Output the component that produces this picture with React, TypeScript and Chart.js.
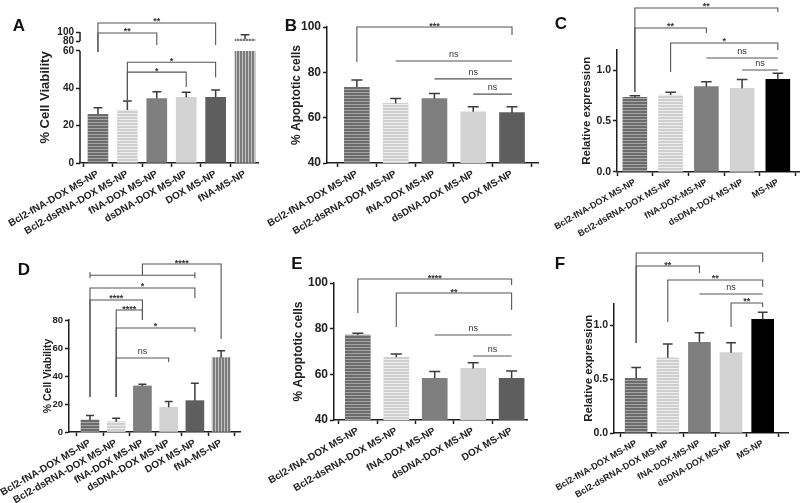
import React, { useEffect, useRef } from "react";
import { Chart, registerables, LinearScale } from "chart.js";

Chart.register(...registerables);

// ---------------- DATA ----------------
const LABELS_6 = [
  "Bcl2-fNA-DOX MS-NP",
  "Bcl2-dsRNA-DOX MS-NP",
  "fNA-DOX MS-NP",
  "dsDNA-DOX MS-NP",
  "DOX MS-NP",
  "fNA-MS-NP",
];
const LABELS_5 = [
  "Bcl2-fNA-DOX MS-NP",
  "Bcl2-dsRNA-DOX MS-NP",
  "fNA-DOX MS-NP",
  "dsDNA-DOX MS-NP",
  "DOX MS-NP",
];
const LABELS_EXPR = [
  "Bcl2-fNA-DOX MS-NP",
  "Bcl2-dsRNA-DOX MS-NP",
  "fNA-DOX-MS-NP",
  "dsDNA-DOX MS-NP",
  "MS-NP",
];

const MEANS_A = [26.1, 28.4, 34.5, 35.2, 35.2, 84.4];
const SEM_A = [3.5, 4.8, 3.7, 2.7, 3.9, 9.6];
const MEANS_B = [73.4, 66.3, 68.4, 62.6, 62.2];
const SEM_B = [3.2, 2.2, 2.3, 2.2, 2.6];
const MEANS_C = [0.732, 0.755, 0.837, 0.82, 0.908];
const SEM_C = [0.016, 0.026, 0.049, 0.088, 0.059];
const MEANS_D = [8.6, 7.4, 32.9, 17.6, 22.4, 53.1];
const SEM_D = [3.1, 2.4, 1.2, 4.1, 12.4, 5.0];
const MEANS_E = [77.2, 67.5, 58.3, 62.6, 58.3];
const SEM_E = [0.8, 1.4, 2.9, 2.5, 3.2];
const MEANS_F = [0.506, 0.697, 0.84, 0.744, 1.052];
const SEM_F = [0.1, 0.127, 0.089, 0.092, 0.065];

const TICKS_VIAB_A = [0, 20, 40, 60, 80, 100];
const TICKS_VIAB_D = [0, 20, 40, 60, 80];
const TICKS_APOP = [40, 60, 80, 100];
const TICKS_EXPR = [0, 0.5, 1.0];

type Bracket = { from: number; to: number; y: number; yFrom?: number; yTo?: number; text?: string; cap?: boolean };

const BRACKETS_A: Bracket[] = [
  { from: 0, to: 4, y: 120, yFrom: 59.5, yTo: 72, text: "**" },
  { from: 0, to: 2, y: 97.8, yFrom: 59.5, yTo: 72, text: "**" },
  { from: 1, to: 4, y: 54, yFrom: 33.7, yTo: 46, text: "*" },
  { from: 1, to: 3, y: 48.7, yFrom: 33.7, yTo: 40.7, text: "*" },
];
const BRACKETS_B: Bracket[] = [
  { from: 0, to: 4, y: 100, yFrom: 84.6, yTo: 96.5, text: "***" },
  { from: 1, to: 4, y: 85, text: "ns" },
  { from: 2, to: 4, y: 77.1, text: "ns" },
  { from: 3, to: 4, y: 70.4, text: "ns" },
];
const BRACKETS_C: Bracket[] = [
  { from: 0, to: 4, y: 1.608, yFrom: 0.784, yTo: 1.569, text: "**" },
  { from: 0, to: 2, y: 1.412, yFrom: 0.784, yTo: 1.363, text: "**" },
  { from: 1, to: 4, y: 1.265, yFrom: 0.98, yTo: 1.196, text: "*" },
  { from: 2, to: 4, y: 1.118, text: "ns" },
  { from: 3, to: 4, y: 1.0, text: "ns" },
];
const BRACKETS_D: Bracket[] = [
  { from: 0, to: 4, y: 112, cap: true },
  { from: 2, to: 5, y: 120, yFrom: 112, yTo: 66.4, text: "****" },
  { from: 0, to: 4, y: 102.9, yFrom: 25, yTo: 95.7, text: "*" },
  { from: 0, to: 2, y: 94.3, yFrom: 25, yTo: 80, text: "****" },
  { from: 1, to: 2, y: 87.1, yFrom: 25, yTo: 80, text: "****" },
  { from: 1, to: 4, y: 74.3, yFrom: 25, yTo: 71.4, text: "*" },
  { from: 1, to: 3, y: 52.9, yFrom: 25, yTo: 50, text: "ns" },
];
const BRACKETS_E: Bracket[] = [
  { from: 0, to: 4, y: 101.75, yFrom: 86.9, yTo: 99.1, text: "****" },
  { from: 1, to: 4, y: 95.6, yFrom: 80.7, yTo: 88.2, text: "**" },
  { from: 2, to: 4, y: 77.2, text: "ns" },
  { from: 3, to: 4, y: 68, text: "ns" },
];
const BRACKETS_F: Bracket[] = [
  { from: 0, to: 4, y: 1.667, yFrom: 0.833, yTo: 1.583, text: "" },
  { from: 0, to: 2, y: 1.546, yFrom: 0.833, yTo: 1.481, text: "**" },
  { from: 1, to: 4, y: 1.417, yFrom: 1.028, yTo: 1.352, text: "**" },
  { from: 2, to: 4, y: 1.287, text: "ns" },
  { from: 3, to: 4, y: 1.204, yFrom: 0.981, yTo: 1.167, text: "**" },
];

// ---------------- STYLES ----------------
const STYLE_6 = ["hDark", "hLight", "#7f7f7f", "#d3d3d3", "#5e5e5e", "vMid"];
const STYLE_5 = ["hDark", "hLight", "#7f7f7f", "#d3d3d3", "#5e5e5e"];
const STYLE_EXPR = ["hDark", "hLight", "#7f7f7f", "#d3d3d3", "#000000"];

const FONT = "'Liberation Sans', Arial, Helvetica, sans-serif";
const AXIS = "#1e1e1e";

// ---------------- BROKEN SCALE ----------------
class BrokenLinearScale extends LinearScale {
  static id = "brokenLinear";
  static defaults = {};
  _brk(): number[] {
    const o: any = this.options || {};
    const b = o.breakAt || [60, 80];
    const f = o.breakFrac || [0.855, 0.931];
    return [b[0], b[1], f[0], f[1]];
  }
  getPixelForValue(value: any) {
    if (value === null || value === undefined || isNaN(value)) return NaN;
    const [lo, hi, f1, f2] = this._brk();
    const min = this.min;
    const max = this.max;
    let d: number;
    if (value <= lo) d = ((value - min) / (lo - min)) * f1;
    else if (value <= hi) d = f1 + ((value - lo) / (hi - lo)) * (f2 - f1);
    else d = f2 + ((value - hi) / (max - hi)) * (1 - f2);
    return this.getPixelForDecimal(d);
  }
  getValueForPixel(pixel: number) {
    const [lo, hi, f1, f2] = this._brk();
    const d = this.getDecimalForPixel(pixel);
    const min = this.min;
    const max = this.max;
    if (d <= f1) return min + (d / f1) * (lo - min);
    if (d <= f2) return lo + ((d - f1) / (f2 - f1)) * (hi - lo);
    return hi + ((d - f2) / (1 - f2)) * (max - hi);
  }
}
Chart.register(BrokenLinearScale as any);

// ---------------- PANELS ----------------
type PanelSpec = {
  letter: string;
  letterX: number;
  letterY: number;
  labels: string[];
  means: number[];
  sems: number[];
  styles: string[];
  yMin: number;
  yMax: number;
  yTicks: number[];
  decimals: number;
  yTitle: string;
  area: { left: number; right: number; top: number; bottom: number };
  xMin: number;
  xMax: number;
  barWidth: number;
  titleX: number;
  titleSize: number;
  tickSize: number;
  labelSize: number;
  brackets: Bracket[];
  broken?: number[];
  brokenFrac?: number[];
};

const PANELS: PanelSpec[] = [
  {
    letter: "A", letterX: 19, letterY: 26,
    labels: LABELS_6, means: MEANS_A, sems: SEM_A, styles: STYLE_6,
    yMin: 0, yMax: 100, yTicks: TICKS_VIAB_A, decimals: 0, yTitle: "% Cell Viability",
    area: { left: 80, right: 258, top: 32, bottom: 163 },
    xMin: -0.61, xMax: 5.44, barWidth: 20,
    titleX: 45, titleSize: 13, tickSize: 10, labelSize: 10,
    brackets: BRACKETS_A, broken: [60, 80], brokenFrac: [0.855, 0.931],
  },
  {
    letter: "B", letterX: 291, letterY: 26,
    labels: LABELS_5, means: MEANS_B, sems: SEM_B, styles: STYLE_5,
    yMin: 40, yMax: 100, yTicks: TICKS_APOP, decimals: 0, yTitle: "% Apoptotic cells",
    area: { left: 327, right: 538, top: 27, bottom: 163 },
    xMin: -0.77, xMax: 4.67, barWidth: 25,
    titleX: 297, titleSize: 12, tickSize: 12, labelSize: 10,
    brackets: BRACKETS_B,
  },
  {
    letter: "C", letterX: 561, letterY: 24,
    labels: LABELS_EXPR, means: MEANS_C, sems: SEM_C, styles: STYLE_EXPR,
    yMin: 0, yMax: 1.2, yTicks: TICKS_EXPR, decimals: 1, yTitle: "Relative expression",
    area: { left: 617, right: 800, top: 49.6, bottom: 172 },
    xMin: -0.5, xMax: 4.62, barWidth: 24,
    titleX: 587, titleSize: 11.5, tickSize: 10.5, labelSize: 9,
    brackets: BRACKETS_C,
  },
  {
    letter: "D", letterX: 24, letterY: 270,
    labels: LABELS_6, means: MEANS_D, sems: SEM_D, styles: STYLE_6,
    yMin: 0, yMax: 80, yTicks: TICKS_VIAB_D, decimals: 0, yTitle: "% Cell Viability",
    area: { left: 69, right: 240, top: 320, bottom: 432 },
    xMin: -0.8, xMax: 5.72, barWidth: 18,
    titleX: 48, titleSize: 10.5, tickSize: 9.5, labelSize: 10,
    brackets: BRACKETS_D,
  },
  {
    letter: "E", letterX: 297, letterY: 264,
    labels: LABELS_5, means: MEANS_E, sems: SEM_E, styles: STYLE_5,
    yMin: 40, yMax: 100, yTicks: TICKS_APOP, decimals: 0, yTitle: "% Apoptotic cells",
    area: { left: 334, right: 527, top: 283, bottom: 420 },
    xMin: -0.62, xMax: 4.4, barWidth: 25,
    titleX: 299, titleSize: 12, tickSize: 12, labelSize: 10,
    brackets: BRACKETS_E,
  },
  {
    letter: "F", letterX: 560, letterY: 264,
    labels: LABELS_EXPR, means: MEANS_F, sems: SEM_F, styles: STYLE_EXPR,
    yMin: 0, yMax: 1.2, yTicks: TICKS_EXPR, decimals: 1, yTitle: "Relative expression",
    area: { left: 614, right: 788, top: 303.4, bottom: 433 },
    xMin: -0.7, xMax: 4.8, barWidth: 22,
    titleX: 589, titleSize: 11.4, tickSize: 10.5, labelSize: 9,
    brackets: BRACKETS_F,
  },
];

function makeStripe(dir: "h" | "v", c1: string, c2: string, period: number, thick: number) {
  const c = document.createElement("canvas");
  c.width = dir === "v" ? period : 1;
  c.height = dir === "h" ? period : 1;
  const g = c.getContext("2d")!;
  g.fillStyle = c2;
  g.fillRect(0, 0, c.width, c.height);
  g.fillStyle = c1;
  if (dir === "h") g.fillRect(0, 0, 1, thick);
  else g.fillRect(0, 0, thick, 1);
  return g.createPattern(c, "repeat")!;
}

function resolveFill(key: string): any {
  if (key === "hDark") return makeStripe("h", "#6c6c6c", "#a4a4a4", 3, 2);
  if (key === "hLight") return makeStripe("h", "#cfcfcf", "#ededed", 3, 2);
  if (key === "vMid") return makeStripe("v", "#7c7c7c", "#c4c4c4", 3, 2);
  return key;
}

function overlayPlugin(spec: PanelSpec) {
  return {
    id: "overlay" + spec.letter,
    afterDatasetsDraw(chart: any) {
      const ctx: CanvasRenderingContext2D = chart.ctx;
      const xs = chart.scales.x;
      const ys = chart.scales.y;
      const a = chart.chartArea;
      ctx.save();
      if (spec.broken) {
        const yLo = ys.getPixelForValue(spec.broken[0]);
        const yHi = ys.getPixelForValue(spec.broken[1]);
        ctx.fillStyle = "#ffffff";
        ctx.fillRect(a.left + 1, yHi, a.right - a.left, yLo - yHi);
        ctx.strokeStyle = AXIS;
        ctx.lineWidth = 1.5;
        ctx.beginPath();
        ctx.moveTo(a.left, ys.getPixelForValue(spec.yMin));
        ctx.lineTo(a.left, yLo);
        ctx.moveTo(a.left, yHi);
        ctx.lineTo(a.left, ys.getPixelForValue(spec.yMax));
        ctx.stroke();
      }
      // error bars
      ctx.strokeStyle = "#3c3c3c";
      ctx.lineWidth = 1.5;
      const cap = spec.barWidth * 0.22;
      spec.means.forEach((m, i) => {
        const x = xs.getPixelForValue(i);
        const y0 = ys.getPixelForValue(m);
        const y1 = ys.getPixelForValue(m + spec.sems[i]);
        ctx.beginPath();
        ctx.moveTo(x, y0);
        ctx.lineTo(x, y1);
        ctx.moveTo(x - cap, y1);
        ctx.lineTo(x + cap, y1);
        ctx.stroke();
      });
      ctx.restore();
    },
    afterDraw(chart: any) {
      const ctx: CanvasRenderingContext2D = chart.ctx;
      const xs = chart.scales.x;
      const ys = chart.scales.y;
      ctx.save();
      ctx.strokeStyle = "#555555";
      ctx.lineWidth = 1.1;
      ctx.fillStyle = "#333333";
      ctx.textAlign = "center";
      ctx.textBaseline = "alphabetic";
      spec.brackets.forEach((b) => {
        const x1 = xs.getPixelForValue(b.from);
        const x2 = xs.getPixelForValue(b.to);
        const y = ys.getPixelForValue(b.y);
        ctx.beginPath();
        if (b.yFrom !== undefined) {
          ctx.moveTo(x1, ys.getPixelForValue(b.yFrom));
          ctx.lineTo(x1, y);
        } else {
          ctx.moveTo(x1, y);
        }
        ctx.lineTo(x2, y);
        if (b.yTo !== undefined) ctx.lineTo(x2, ys.getPixelForValue(b.yTo));
        if (b.cap) {
          ctx.moveTo(x1, y - 3);
          ctx.lineTo(x1, y + 3);
          ctx.moveTo(x2, y - 3);
          ctx.lineTo(x2, y + 3);
        }
        ctx.stroke();
        if (b.text) {
          const mid = (x1 + x2) / 2;
          if (b.text === "ns") {
            ctx.font = `9px ${FONT}`;
            ctx.fillText(b.text, mid, y - 4);
          } else {
            ctx.font = `bold 9px ${FONT}`;
            ctx.fillText(b.text, mid, y + 1.5);
          }
        }
      });
      ctx.fillStyle = "#111111";
      ctx.font = `bold 17px ${FONT}`;
      ctx.textBaseline = "middle";
      ctx.fillText(spec.letter, spec.letterX, spec.letterY);
      ctx.restore();
    },
  };
}

function buildConfig(spec: PanelSpec): any {
  const a = spec.area;
  const scaleLeft = spec.titleX - spec.titleSize * 0.6;
  const yWidth = a.left - scaleLeft;
  const xHeight = 503 - a.bottom;
  const data = spec.means.map((v, i) => ({ x: i, y: v }));
  const fills = spec.styles.map(resolveFill);
  const yScale: any = {
    type: spec.broken ? "brokenLinear" : "linear",
    min: spec.yMin,
    max: spec.yMax,
    grid: { display: true, drawOnChartArea: false, drawTicks: true, tickLength: 4, tickWidth: 1.5, tickColor: AXIS },
    border: { display: !spec.broken, color: AXIS, width: 1.5 },
    ticks: {
      color: "#222",
      padding: 2,
      font: { family: FONT, size: spec.tickSize, weight: "bold" },
      callback: (v: any) => Number(v).toFixed(spec.decimals),
    },
    title: {
      display: true,
      text: spec.yTitle,
      color: "#222",
      padding: 0,
      font: { family: FONT, size: spec.titleSize, weight: "bold" },
    },
    afterBuildTicks: (s: any) => {
      s.ticks = spec.yTicks.map((v) => ({ value: v }));
    },
    afterFit: (s: any) => {
      s.width = yWidth;
      s.paddingTop = 0;
      s.paddingBottom = 0;
    },
  };
  if (spec.broken) {
    yScale.breakAt = spec.broken;
    yScale.breakFrac = spec.brokenFrac;
  }
  return {
    type: "bar",
    data: {
      datasets: [
        {
          data,
          backgroundColor: fills,
          borderWidth: 0,
          barThickness: spec.barWidth,
        },
      ],
    },
    options: {
      responsive: false,
      animation: false,
      devicePixelRatio: 1,
      events: [],
      layout: { padding: { left: scaleLeft, top: a.top, right: 800 - a.right, bottom: 0 } },
      plugins: { legend: { display: false }, tooltip: { enabled: false } },
      scales: {
        x: {
          type: "linear",
          min: spec.xMin,
          max: spec.xMax,
          offset: false,
          grid: { display: true, drawOnChartArea: false, drawTicks: true, tickLength: 4, tickWidth: 1.5, tickColor: AXIS },
          border: { display: true, color: AXIS, width: 1.5 },
          ticks: {
            autoSkip: false,
            minRotation: 30,
            maxRotation: 30,
            padding: 1,
            color: "#222",
            font: { family: FONT, size: spec.labelSize, weight: "bold" },
            callback: (_v: any, i: number) => spec.labels[i],
          },
          afterBuildTicks: (s: any) => {
            s.ticks = spec.labels.map((_, i) => ({ value: i }));
          },
          afterFit: (s: any) => {
            s.height = xHeight;
            s.paddingLeft = 0;
            s.paddingRight = 0;
          },
        },
        y: yScale,
      },
    },
    plugins: [overlayPlugin(spec)],
  };
}

function Panel({ spec }: { spec: PanelSpec }) {
  const ref = useRef<HTMLCanvasElement>(null);
  useEffect(() => {
    const chart = new Chart(ref.current!, buildConfig(spec));
    return () => chart.destroy();
  }, [spec]);
  return (
    <canvas
      ref={ref}
      width={800}
      height={503}
      style={{ position: "absolute", left: 0, top: 0, width: 800, height: 503 }}
    />
  );
}

export default function App() {
  return (
    <div style={{ position: "absolute", left: 0, top: 0, width: 800, height: 503, background: "#fff", overflow: "hidden" }}>
      {PANELS.map((p) => (
        <Panel key={p.letter} spec={p} />
      ))}
    </div>
  );
}
